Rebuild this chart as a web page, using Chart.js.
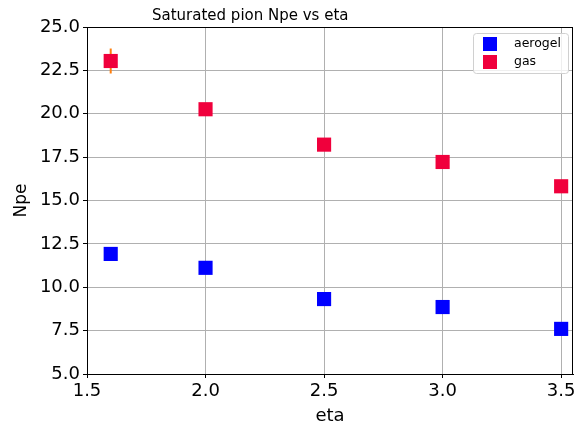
<!DOCTYPE html>
<html>
<head>
<meta charset="utf-8">
<script src="https://cdn.jsdelivr.net/npm/chart.js@4"></script>
<style>
  html, body { margin: 0; padding: 0; background: #fff; }
  #wrap { width: 575px; height: 427px; }
</style>
</head>
<body>
<div id="wrap"><canvas id="npeChart"></canvas></div>
<script>
// data
const etaValues = [1.6, 2.0, 2.5, 3.0, 3.5];
const aerogelNpe = [11.92, 11.12, 9.32, 8.86, 7.6];
const gasNpe = [23.04, 20.26, 18.22, 17.22, 15.82];
const gasErr = [0.72, 0, 0, 0, 0];
const xTicks = [1.5, 2.0, 2.5, 3.0, 3.5];
const yTicks = [5.0, 7.5, 10.0, 12.5, 15.0, 17.5, 20.0, 22.5, 25.0];

const FONT = "'DejaVu Sans', sans-serif";

function toPoints(xs, ys) {
  return xs.map((x, i) => ({x: x, y: ys[i]}));
}

// orange error bars, behind the markers
const errorBars = {
  id: 'errorBars',
  beforeDatasetsDraw(chart) {
    const ctx = chart.ctx, xs = chart.scales.x, ys = chart.scales.y;
    ctx.save();
    ctx.strokeStyle = '#ff7f0e';
    ctx.lineWidth = 2;
    etaValues.forEach((eta, i) => {
      if (!gasErr[i]) return;
      const px = xs.getPixelForValue(eta);
      ctx.beginPath();
      ctx.moveTo(px, ys.getPixelForValue(gasNpe[i] - gasErr[i]));
      ctx.lineTo(px, ys.getPixelForValue(gasNpe[i] + gasErr[i]));
      ctx.stroke();
    });
    ctx.restore();
  }
};

// box round the plot, title and matplotlib style legend
const frame = {
  id: 'frame',
  afterDraw(chart) {
    const ctx = chart.ctx, a = chart.chartArea;
    ctx.save();
    ctx.strokeStyle = '#000';
    ctx.lineWidth = 1;
    ctx.strokeRect(Math.round(a.left) + 0.5, Math.round(a.top) + 0.5,
                   Math.round(a.right - a.left) - 1, Math.round(a.bottom - a.top));

    ctx.fillStyle = '#000';
    ctx.font = '15px ' + FONT;
    ctx.textAlign = 'left';
    ctx.textBaseline = 'alphabetic';
    ctx.fillText('Saturated pion Npe vs eta', 152, 20);

    // legend
    const lx = a.right - 100, ly = a.top + 6;
    ctx.fillStyle = 'rgba(255,255,255,0.8)';
    ctx.strokeStyle = '#d0d0d0';
    ctx.beginPath();
    ctx.roundRect(lx + 0.5, ly + 0.5, 95, 40, 3);
    ctx.fill();
    ctx.stroke();
    const entries = [['aerogel', '#0000ff'], ['gas', '#f0003c']];
    ctx.font = '12.5px ' + FONT;
    ctx.textBaseline = 'middle';
    entries.forEach((e, i) => {
      const cy = ly + 11 + i * 18;
      ctx.fillStyle = e[1];
      ctx.fillRect(lx + 10, cy - 7, 14, 14);
      ctx.fillStyle = '#000';
      ctx.fillText(e[0], lx + 41, cy);
    });
    ctx.restore();
  }
};

const noPad = () => ({left: 0, top: 0, right: 0, bottom: 0});

new Chart('npeChart', {
  type: 'scatter',
  data: {
    datasets: [{
        label: 'aerogel',
        data: toPoints(etaValues, aerogelNpe),
        backgroundColor: '#0000ff',
        borderColor: '#0000ff',
        borderWidth: 0,
        pointStyle: 'rect',
        pointRadius: 10,
        pointHoverRadius: 10
      },
      {
        label: 'gas',
        data: toPoints(etaValues, gasNpe),
        backgroundColor: '#f0003c',
        borderColor: '#f0003c',
        borderWidth: 0,
        pointStyle: 'rect',
        pointRadius: 10,
        pointHoverRadius: 10
      }]
  },
  options: {
    responsive: true,
    maintainAspectRatio: false,
    animation: false,
    events: [],
    layout: {autoPadding: false, padding: {top: 27, right: 2, left: 0, bottom: 0}},
    plugins: {
      legend: {display: false},
      title: {display: false},
      tooltip: {enabled: false}
    },
    scales: {
      x: {
        type: 'linear',
        min: 1.5,
        max: 3.55,
        afterBuildTicks(axis) { axis.ticks = xTicks.map(v => ({value: v})); },
        afterFit(axis) {
          axis.height = 53;
          axis.paddingLeft = 0; axis.paddingRight = 0;
          axis.getPadding = noPad;
        },
        ticks: {
          color: '#000',
          font: {family: FONT, size: 18},
          padding: 3,
          maxRotation: 0,
          callback: v => v.toFixed(1)
        },
        grid: {color: '#b0b0b0', tickColor: '#000', tickLength: 4, lineWidth: 1},
        border: {color: '#000'},
        title: {display: true, text: 'eta', color: '#000', font: {family: FONT, size: 18}, padding: {top: 0, bottom: 0}}
      },
      y: {
        min: 5,
        max: 25,
        afterBuildTicks(axis) { axis.ticks = yTicks.map(v => ({value: v})); },
        afterFit(axis) {
          axis.width = 87;
          axis.paddingTop = 0; axis.paddingBottom = 0;
          axis.getPadding = noPad;
        },
        ticks: {
          color: '#000',
          font: {family: FONT, size: 18},
          padding: 3,
          callback: v => v.toFixed(1)
        },
        grid: {color: '#b0b0b0', tickColor: '#000', tickLength: 4, lineWidth: 1},
        border: {color: '#000'},
        title: {display: true, text: 'Npe', color: '#000', font: {family: FONT, size: 17}, padding: {top: 11, bottom: 0}}
      }
    }
  },
  plugins: [errorBars, frame]
});
</script>
</body>
</html>
